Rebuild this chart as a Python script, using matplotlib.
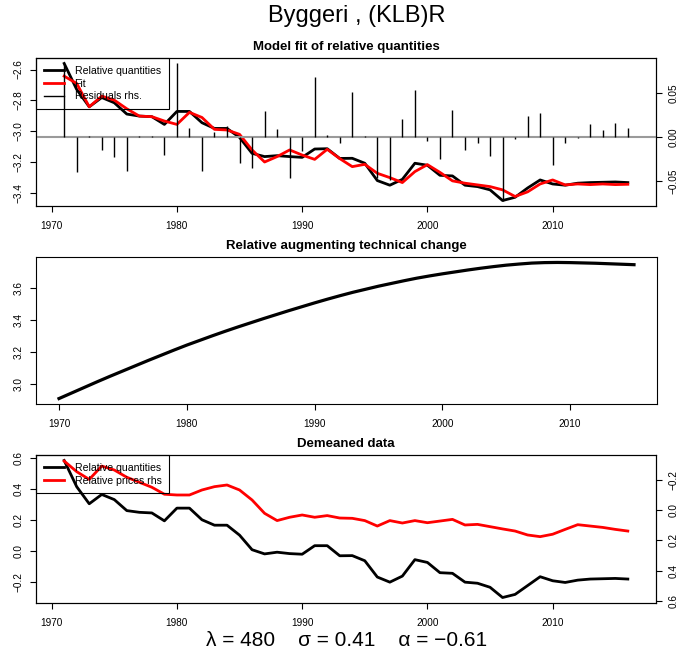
import matplotlib
matplotlib.use('Agg')
import matplotlib.pyplot as plt
from matplotlib.lines import Line2D

plt.rcParams['font.family'] = ['Liberation Sans', 'DejaVu Sans']

# ---------------- data ----------------
years = list(range(1971, 2017))
rel_q = [-2.561, -2.729, -2.841, -2.781, -2.815, -2.888, -2.901, -2.905, -2.955, -2.871,
         -2.871, -2.944, -2.981, -2.981, -3.039, -3.142, -3.163, -3.157, -3.163, -3.168,
         -3.114, -3.112, -3.175, -3.174, -3.206, -3.318, -3.348, -3.310, -3.206, -3.219,
         -3.284, -3.288, -3.348, -3.357, -3.378, -3.447, -3.426, -3.366, -3.314, -3.340,
         -3.348, -3.335, -3.331, -3.329, -3.327, -3.331]
fit = [-2.643, -2.690, -2.841, -2.772, -2.798, -2.854, -2.901, -2.905, -2.933, -2.955,
       -2.877, -2.910, -2.987, -2.991, -3.019, -3.120, -3.198, -3.163, -3.120, -3.153,
       -3.181, -3.116, -3.176, -3.228, -3.213, -3.271, -3.299, -3.331, -3.260, -3.215,
       -3.265, -3.320, -3.335, -3.346, -3.357, -3.378, -3.421, -3.391, -3.340, -3.314,
       -3.346, -3.340, -3.344, -3.340, -3.344, -3.342]
resid = [0.084, -0.040, 0.001, -0.014, -0.023, -0.038, 0.001, 0.002, -0.020, 0.084,
         0.011, -0.038, 0.006, 0.013, -0.029, -0.035, 0.030, 0.009, -0.046, -0.016,
         0.069, 0.003, -0.007, 0.052, 0.002, -0.046, -0.049, 0.021, 0.054, -0.004,
         -0.025, 0.031, -0.014, -0.006, -0.021, -0.072, -0.002, 0.024, 0.028, -0.031,
         -0.006, -0.001, 0.015, 0.008, 0.016, 0.010]

tc_years = list(range(1970, 2016))
tech_change = [2.911, 2.946, 2.981, 3.016, 3.050, 3.083, 3.116, 3.149, 3.181, 3.213,
               3.244, 3.273, 3.302, 3.330, 3.357, 3.383, 3.409, 3.434, 3.459, 3.483,
               3.507, 3.530, 3.552, 3.573, 3.592, 3.611, 3.628, 3.645, 3.661, 3.675,
               3.688, 3.700, 3.712, 3.723, 3.733, 3.742, 3.749, 3.755, 3.758, 3.759,
               3.758, 3.756, 3.754, 3.751, 3.748, 3.745]

dm_q = [0.582, 0.413, 0.303, 0.363, 0.330, 0.259, 0.248, 0.244, 0.193, 0.275,
        0.275, 0.200, 0.165, 0.165, 0.101, 0.007, -0.020, -0.009, -0.018, -0.022,
        0.033, 0.033, -0.032, -0.031, -0.064, -0.169, -0.202, -0.163, -0.057, -0.075,
        -0.141, -0.145, -0.202, -0.209, -0.235, -0.301, -0.281, -0.224, -0.167, -0.193,
        -0.204, -0.189, -0.182, -0.180, -0.178, -0.182]
dm_p = [-0.323, -0.253, -0.202, -0.290, -0.264, -0.216, -0.183, -0.150, -0.104, -0.099,
        -0.099, -0.132, -0.154, -0.165, -0.132, -0.066, 0.022, 0.070, 0.048, 0.033,
        0.048, 0.037, 0.053, 0.055, 0.070, 0.106, 0.070, 0.086, 0.070, 0.084,
        0.073, 0.062, 0.099, 0.095, 0.110, 0.125, 0.139, 0.165, 0.176, 0.160,
        0.128, 0.097, 0.106, 0.115, 0.128, 0.139]

x_ticks = [1970, 1980, 1990, 2000, 2010]
top_left_ticks = [-3.4, -3.2, -3.0, -2.8, -2.6]
top_right_ticks = [-0.05, 0.0, 0.05]
mid_ticks = [3.0, 3.2, 3.4, 3.6]
bot_left_ticks = [-0.2, 0.0, 0.2, 0.4, 0.6]
bot_right_ticks = [-0.2, 0.0, 0.2, 0.4, 0.6]
bot_right_lim = (0.614, -0.363)

main_title = "Byggeri , (KLB)R"
titles = ["Model fit of relative quantities", "Relative augmenting technical change", "Demeaned data"]
footer = "\u03bb = 480    \u03c3 = 0.41    \u03b1 = \u22120.61"

# ---------------- layout ----------------
W, H = 680, 653
fig = plt.figure(figsize=(W / 100, H / 100), dpi=100)


def rect(l, t, r, b):
    return [l / W, 1 - b / H, (r - l) / W, (b - t) / H]


TICKFS = 7.2
LW = 2.0


def style(ax):
    for s in ax.spines.values():
        s.set_linewidth(0.8)
        s.set_color('black')
    ax.tick_params(direction='out', length=4.5, width=0.8, labelsize=TICKFS, pad=6, colors='black')
    ax.tick_params(axis='y', pad=4.5)


def fmt(v, nd):
    s = f"{v:.{nd}f}"
    return s.replace('-', '\u2212')


def set_yl(ax, ticks, nd, side='left'):
    ax.set_yticks(ticks)
    if side == 'left':
        ax.set_yticklabels([fmt(t, nd) for t in ticks], rotation=90, va='center')
    else:
        ax.set_yticklabels([fmt(t, nd) for t in ticks], rotation=90, va='center', ha='left')


def legend(ax, handles, labels):
    lg = ax.legend(handles, labels, loc='upper left', bbox_to_anchor=(0, 1), borderaxespad=0,
                   fontsize=7.6, handlelength=1.9, handletextpad=1.0, labelspacing=0.25,
                   borderpad=0.75, fancybox=False, facecolor='none', edgecolor='black',
                   framealpha=1)
    lg.get_frame().set_linewidth(0.8)
    return lg


# ---- top panel ----
ax1 = fig.add_axes(rect(36, 58, 656, 206))
ax1.plot(years, rel_q, color='black', lw=LW)
ax1.plot(years, fit, color='red', lw=LW)
ax1.margins(x=0.04, y=0.04)
ax1.set_xticks(x_ticks)
set_yl(ax1, top_left_ticks, 1)
style(ax1)
ax1.set_title(titles[0], fontsize=9.5, fontweight='bold', pad=6)

ax1r = ax1.twinx()
ax1r.axhline(0, color='#9a9a9a', lw=1.5)
ax1r.vlines(years, 0, resid, color='black', lw=1.0)
ax1r.margins(y=0.04)
set_yl(ax1r, top_right_ticks, 2, side='right')
style(ax1r)
legend(ax1r,
       [Line2D([], [], color='black', lw=LW), Line2D([], [], color='red', lw=LW),
        Line2D([], [], color='black', lw=1.0)],
       ["Relative quantities", "Fit", "Residuals rhs."])

# ---- middle panel ----
ax2 = fig.add_axes(rect(36, 257, 657, 404))
ax2.plot(tc_years, tech_change, color='black', lw=2.3)
ax2.margins(x=0.04, y=0.04)
ax2.set_xticks(x_ticks)
set_yl(ax2, mid_ticks, 1)
style(ax2)
ax2.set_title(titles[1], fontsize=9.5, fontweight='bold', pad=6)

# ---- bottom panel ----
ax3 = fig.add_axes(rect(36, 455, 656, 603))
ax3.plot(years, dm_q, color='black', lw=LW)
ax3.margins(x=0.04, y=0.04)
ax3.set_xticks(x_ticks)
set_yl(ax3, bot_left_ticks, 1)
style(ax3)
ax3.set_title(titles[2], fontsize=9.5, fontweight='bold', pad=6)

ax3r = ax3.twinx()
ax3r.plot(years, dm_p, color='red', lw=LW)
ax3r.set_ylim(*bot_right_lim)
set_yl(ax3r, bot_right_ticks, 1, side='right')
style(ax3r)
legend(ax3r,
       [Line2D([], [], color='black', lw=LW), Line2D([], [], color='red', lw=LW)],
       ["Relative quantities", "Relative prices rhs"])

fig.text(357 / W, 1 - 16 / H, main_title, ha='center', va='center', fontsize=17)
fig.text(347 / W, 1 - 640 / H, footer, ha='center', va='center', fontsize=15)

fig.savefig('out.png', dpi=100)
